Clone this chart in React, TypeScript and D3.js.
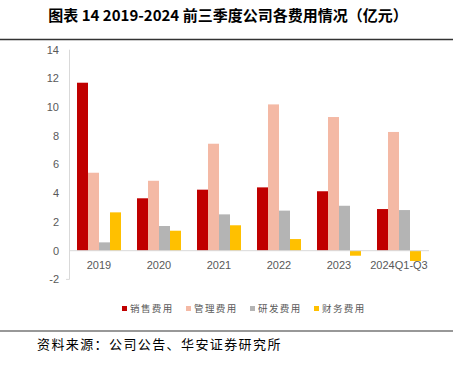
import React from "react";
import * as d3 from "d3";

const categories = ["2019", "2020", "2021", "2022", "2023", "2024Q1-Q3"];
const seriesNames = ["销售费用", "管理费用", "研发费用", "财务费用"];
const salesExp = [11.7, 3.65, 4.25, 4.41, 4.14, 2.9];
const adminExp = [5.43, 4.87, 7.45, 10.19, 9.31, 8.27];
const rdExp = [0.58, 1.72, 2.53, 2.79, 3.13, 2.83];
const finExp = [2.67, 1.39, 1.77, 0.81, -0.35, -0.72];
const seriesColors = ["#C00000", "#F4B9A5", "#B4B4B4", "#FFC000"];
const yTicks = [-2, 0, 2, 4, 6, 8, 10, 12, 14];

const seriesValues = [salesExp, adminExp, rdExp, finExp];

export default function App() {
  const W = 458;
  const H = 375;
  const x = d3
    .scaleBand<string>()
    .domain(categories)
    .range([69, 429])
    .paddingInner(0.2667)
    .paddingOuter(0.1333);
  const xs = d3
    .scaleBand<string>()
    .domain(seriesNames)
    .range([0, x.bandwidth()]);
  const y = d3.scaleLinear().domain([-2, 14]).range([279.4, 49.7]);
  const font = "'Liberation Sans', Arial, sans-serif";
  const cjk = "'Noto Sans CJK SC', sans-serif";

  const legendX = [122, 186, 250, 314];

  return (
    <svg
      width={W}
      height={H}
      style={{ position: "absolute", left: 0, top: 0, background: "#fff" }}
    >
      <text
        x={228}
        y={21}
        textAnchor="middle"
        fontFamily={cjk}
        fontWeight="bold"
        fontSize={15}
        fill="#000"
      >
        图表 14 2019-2024 前三季度公司各费用情况（亿元）
      </text>
      <line x1={0} x2={453} y1={39.5} y2={39.5} stroke="#333" strokeWidth={1.3} />

      {/* y axis */}
      <line x1={69.5} x2={69.5} y1={y(14)} y2={y(-2)} stroke="#D9D9D9" strokeWidth={1} />
      <line x1={66} x2={69.5} y1={y(-2)} y2={y(-2)} stroke="#D9D9D9" strokeWidth={1} />
      {yTicks.map((t) => (
        <text
          key={t}
          x={59}
          y={y(t)}
          dy="0.35em"
          textAnchor="end"
          fontFamily={font}
          fontSize={11}
          fill="#595959"
        >
          {t}
        </text>
      ))}

      {/* bars */}
      {categories.map((c, i) => (
        <g key={c} transform={`translate(${x(c)},0)`}>
          {seriesNames.map((s, j) => {
            const v = seriesValues[j][i];
            const y0 = y(0);
            const yv = y(v);
            return (
              <rect
                key={s}
                x={xs(s)}
                y={Math.min(y0, yv)}
                width={xs.bandwidth()}
                height={Math.abs(y0 - yv)}
                fill={seriesColors[j]}
              />
            );
          })}
        </g>
      ))}

      {/* zero line */}
      <line x1={69} x2={429} y1={y(0)} y2={y(0)} stroke="#D9D9D9" strokeWidth={1} />

      {categories.map((c) => (
        <text
          key={c}
          x={(x(c) as number) + x.bandwidth() / 2}
          y={265}
          dy="0.35em"
          textAnchor="middle"
          fontFamily={font}
          fontSize={11}
          fill="#595959"
        >
          {c}
        </text>
      ))}

      {/* legend */}
      {seriesNames.map((s, j) => (
        <g key={s}>
          <rect x={legendX[j]} y={306} width={5} height={5} fill={seriesColors[j]} />
          <text
            x={legendX[j] + 8}
            y={309}
            dy="0.35em"
            fontFamily={cjk}
            fontSize={9.5}
            letterSpacing={1.4}
            fill="#595959"
          >
            {s}
          </text>
        </g>
      ))}

      <line x1={0} x2={453} y1={331} y2={331} stroke="#333" strokeWidth={1.2} />
      <text
        x={37}
        y={344}
        dy="0.35em"
        fontFamily={cjk}
        fontSize={13}
        letterSpacing={1.4}
        fill="#000"
      >
        资料来源：公司公告、华安证券研究所
      </text>
    </svg>
  );
}
